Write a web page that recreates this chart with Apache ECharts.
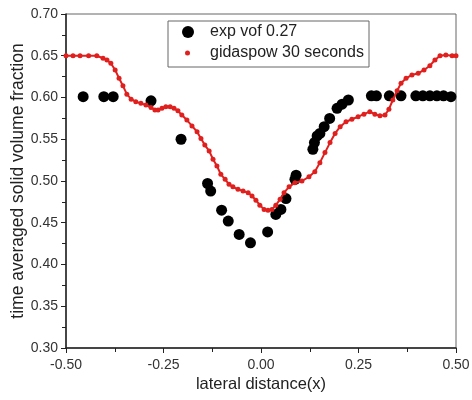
<!DOCTYPE html>
<html>
<head>
<meta charset="utf-8">
<script src="https://cdn.jsdelivr.net/npm/echarts@6/dist/echarts.min.js"></script>
<style>html,body{margin:0;padding:0;background:#fff}#c{width:472px;height:400px}</style>
</head>
<body>
<div id="c"></div>
<script>
const expName = 'exp vof 0.27';
const simName = 'gidaspow 30 seconds';
const expX = [-0.456,-0.403,-0.379,-0.282,-0.205,-0.137,-0.129,-0.101,-0.084,-0.056,-0.027,0.017,0.038,0.051,0.064,0.087,0.090,
  0.133,0.137,0.144,0.151,0.162,0.176,0.195,0.208,0.224,
  0.283,0.296,0.329,0.359,0.397,0.415,0.433,0.451,0.468,0.487];
const expY = [0.601,0.601,0.601,0.596,0.550,0.497,0.488,0.465,0.452,0.436,0.426,0.439,0.460,0.466,0.479,0.502,0.507,
  0.538,0.546,0.554,0.557,0.565,0.575,0.587,0.592,0.597,
  0.602,0.602,0.602,0.602,0.602,0.602,0.602,0.602,0.602,0.601];
const simX = [-0.500,-0.482,-0.464,-0.442,-0.421,-0.405,-0.395,-0.385,-0.374,-0.364,-0.354,-0.344,-0.333,-0.321,-0.308,-0.295,-0.282,-0.272,-0.264,-0.254,-0.244,-0.233,-0.223,-0.213,-0.203,-0.190,-0.177,-0.164,-0.154,-0.144,-0.133,-0.123,-0.113,-0.103,-0.092,-0.082,-0.072,-0.059,-0.046,-0.033,-0.023,-0.013,-0.003,0.008,0.018,0.028,0.038,0.049,0.059,0.072,0.087,0.105,0.123,0.138,0.151,0.164,0.177,0.190,0.203,0.218,0.233,0.249,0.264,0.279,0.292,0.305,0.318,0.328,0.338,0.349,0.359,0.372,0.387,0.403,0.418,0.433,0.446,0.459,0.474,0.490,0.500];
const simY = [0.650,0.650,0.650,0.650,0.650,0.647,0.645,0.641,0.633,0.623,0.614,0.604,0.598,0.595,0.593,0.591,0.588,0.585,0.585,0.587,0.589,0.589,0.587,0.584,0.579,0.573,0.566,0.559,0.551,0.543,0.536,0.526,0.518,0.508,0.502,0.496,0.493,0.490,0.488,0.486,0.482,0.477,0.471,0.466,0.465,0.466,0.471,0.478,0.486,0.493,0.498,0.500,0.505,0.511,0.522,0.534,0.546,0.557,0.565,0.571,0.574,0.577,0.580,0.583,0.580,0.578,0.579,0.586,0.597,0.608,0.617,0.623,0.627,0.629,0.633,0.638,0.645,0.650,0.651,0.650,0.650];
const xTicks = {min: -0.5, max: 0.5, step: 0.25};
const yTicks = {min: 0.30, max: 0.70, step: 0.05};

const font = 'Liberation Sans, Arial, sans-serif';
const chart = echarts.init(document.getElementById('c'));
chart.setOption({
  animation: false,
  backgroundColor: '#fff',
  grid: {left: 66, right: 16, top: 14, bottom: 52, containLabel: false, outerBoundsMode: 'none',
    show: true, borderColor: '#666', borderWidth: 1},
  legend: [
    {data: [{name: expName, icon: 'circle'}], orient: 'vertical', left: 182, top: 24, padding: 0, itemWidth: 12, itemHeight: 12,
      textStyle: {fontFamily: font, fontSize: 16, color: '#222', padding: [0,0,0,11]}},
    {data: [{name: simName, icon: 'circle'}], orient: 'vertical', left: 185, top: 45, padding: 0, itemWidth: 5, itemHeight: 5,
      textStyle: {fontFamily: font, fontSize: 16, color: '#222', padding: [0,0,0,15]}}
  ],
  graphic: [{type: 'rect', shape: {x: 168, y: 21, width: 201, height: 46},
    style: {fill: 'rgba(0,0,0,0)', stroke: '#666', lineWidth: 1}, z: 0}],
  xAxis: {
    type: 'value', min: xTicks.min, max: xTicks.max, interval: xTicks.step,
    name: 'lateral distance(x)', nameLocation: 'middle', nameGap: 28, nameMoveOverlap: false,
    nameTextStyle: {fontFamily: font, fontSize: 16.5, color: '#222'},
    axisLine: {show: true, onZero: false, lineStyle: {color: '#222', width: 1.5}},
    axisTick: {show: true, length: 5, inside: false, lineStyle: {color: '#222'}},
    minorTick: {show: true, splitNumber: 2, length: 4, lineStyle: {color: '#222'}},
    splitLine: {show: false},
    axisLabel: {fontFamily: font, fontSize: 14, color: '#333', margin: 10,
      formatter: v => v.toFixed(2)}
  },
  yAxis: {
    type: 'value', min: yTicks.min, max: yTicks.max, interval: yTicks.step,
    name: 'time averaged solid volume fraction', nameLocation: 'middle', nameGap: 39, nameMoveOverlap: false,
    nameTextStyle: {fontFamily: font, fontSize: 17.5, color: '#222'},
    axisLine: {show: true, onZero: false, lineStyle: {color: '#222', width: 1.5}},
    axisTick: {show: true, length: 5, inside: false, lineStyle: {color: '#222'}},
    minorTick: {show: true, splitNumber: 2, length: 4, lineStyle: {color: '#222'}},
    splitLine: {show: false},
    axisLabel: {fontFamily: font, fontSize: 14, color: '#333', margin: 8,
      formatter: v => v.toFixed(2)}
  },
  series: [
    {name: expName, type: 'scatter', symbol: 'circle', symbolSize: 11,
      itemStyle: {color: '#000', opacity: 1}, data: expX.map((x, i) => [x, expY[i]]), z: 3},
    {name: simName, type: 'line', symbol: 'circle', symbolSize: 5, showSymbol: true,
      itemStyle: {color: '#e0201e'}, lineStyle: {color: '#e0201e', width: 2},
      data: simX.map((x, i) => [x, simY[i]]), z: 4}
  ]
});
</script>
</body>
</html>
